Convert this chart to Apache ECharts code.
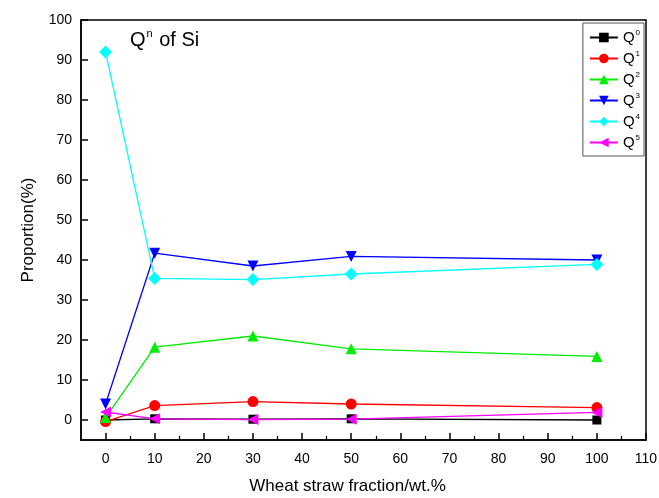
<!DOCTYPE html>
<html>
<head>
<meta charset="utf-8">
<script src="https://cdn.jsdelivr.net/npm/echarts@6/dist/echarts.min.js"></script>
<style>
  html,body{margin:0;padding:0;background:#fff;}
  #chart{width:659px;height:498px;}
</style>
</head>
<body>
<div id="chart"></div>
<script>
/* ---------- data ---------- */
const fractions = [0, 10, 30, 50, 100];
const seriesNames = ['Q0', 'Q1', 'Q2', 'Q3', 'Q4', 'Q5'];
const q0 = [0.0, 0.3, 0.2, 0.3, 0.0];
const q1 = [-0.4, 3.6, 4.6, 4.0, 3.1];
const q2 = [0.6, 18.2, 21.0, 17.8, 15.9];
const q3 = [4.0, 41.7, 38.5, 40.9, 40.0];
const q4 = [92.0, 35.4, 35.1, 36.5, 38.9];
const q5 = [2.0, 0.3, 0.1, 0.2, 1.9];
const xTicks = [0, 10, 20, 30, 40, 50, 60, 70, 80, 90, 100, 110];
const xMinorTicks = [5, 15, 25, 35, 45, 55, 65, 75, 85, 95, 105];
const yTicks = [0, 10, 20, 30, 40, 50, 60, 70, 80, 90, 100];

/* ---------- styles ---------- */
const colors = ['#000000', '#ff0000', '#00ee00', '#0000ff', '#00ffff', '#ff00ff'];
const symbols = [
  {symbol:'rect', size:9, rotate:0},
  {symbol:'circle', size:11, rotate:0},
  {symbol:'triangle', size:11, rotate:0},
  {symbol:'triangle', size:11, rotate:180},
  {symbol:'diamond', size:13, rotate:0},
  {symbol:'triangle', size:11, rotate:90}
];
const values = [q0, q1, q2, q3, q4, q5];

const series = seriesNames.map((name, i) => ({
  name: name,
  type: 'line',
  xAxisIndex: 0,
  yAxisIndex: 0,
  data: fractions.map((x, j) => [x, values[i][j]]),
  symbol: symbols[i].symbol,
  symbolSize: symbols[i].size,
  symbolRotate: symbols[i].rotate,
  showAllSymbol: true,
  itemStyle: {color: colors[i]},
  lineStyle: {color: colors[i], width: 1.3},
  emphasis: {disabled: true},
  z: 2 + i
}));

const font = 'Liberation Sans, Arial, sans-serif';
const axisLine = {show: true, onZero: false, lineStyle: {color: '#000', width: 1.5}};

const chart = echarts.init(document.getElementById('chart'));
chart.setOption({
  animation: false,
  backgroundColor: '#fff',
  grid: {left: 81, right: 13, top: 20, bottom: 58, show: true, borderColor: '#000', borderWidth: 1.5,
         containLabel: false, outerBoundsMode: 'none'},
  title: {
    text: '{a|Q}{b|n}{a| of Si}',
    left: 130, top: 28, padding: 0,
    textStyle: {fontWeight: 'normal', rich: {
      a: {fontFamily: font, fontSize: 20, fontWeight: 'normal', color: '#000'},
      b: {fontFamily: font, fontSize: 11, fontWeight: 'normal', color: '#000', padding: [0, 1, 13, 1]}
    }}
  },
  legend: {
    orient: 'vertical',
    right: 15, top: 23,
    padding: [6, 4, 5, 6],
    itemWidth: 28, itemHeight: 12, itemGap: 4,
    borderColor: '#555', borderWidth: 1,
    data: seriesNames,
    formatter: n => '{q|Q}{s|' + n.slice(1) + '}',
    textStyle: {rich: {
      q: {fontFamily: font, fontSize: 15, color: '#000', lineHeight: 18},
      s: {fontFamily: font, fontSize: 8, color: '#000', padding: [0, 0, 9, 1], lineHeight: 18}
    }}
  },
  xAxis: [{
    type: 'value', min: -5, max: 110,
    name: 'Wheat straw fraction/wt.%', nameLocation: 'middle', nameGap: 38,
    nameTextStyle: {fontFamily: font, fontSize: 17, color: '#000', padding: [0, 32, 0, 0]},
    axisLine: axisLine,
    axisTick: {show: true, inside: true, length: 7, customValues: xTicks, lineStyle: {color: '#000', width: 1.5}},
    axisLabel: {fontFamily: font, fontSize: 14, color: '#000', margin: 12, customValues: xTicks},
    splitLine: {show: false}
  }, {
    type: 'value', min: -5, max: 110, position: 'bottom',
    axisLine: {show: false, onZero: false},
    axisTick: {show: true, inside: true, length: 4, customValues: xMinorTicks, lineStyle: {color: '#000', width: 1.2}},
    axisLabel: {show: false},
    splitLine: {show: false}
  }],
  yAxis: {
    type: 'value', min: -5, max: 100,
    name: 'Proportion(%)', nameLocation: 'middle', nameGap: 44,
    nameTextStyle: {fontFamily: font, fontSize: 17, color: '#000', padding: [0, 0, 0, 0]},
    axisLine: axisLine,
    axisTick: {show: true, inside: true, length: 7, customValues: yTicks, lineStyle: {color: '#000', width: 1.5}},
    axisLabel: {fontFamily: font, fontSize: 14, color: '#000', margin: 9, customValues: yTicks},
    splitLine: {show: false}
  },
  series: series
});
</script>
</body>
</html>
